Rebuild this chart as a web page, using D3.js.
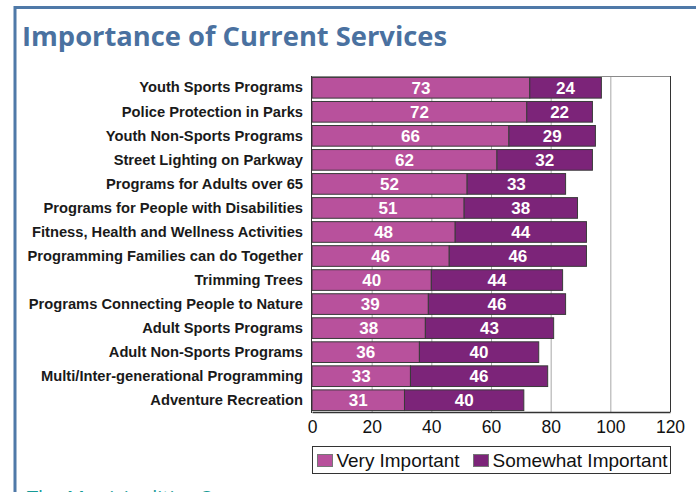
<!DOCTYPE html>
<html>
<head>
<meta charset="utf-8">
<script src="https://cdn.jsdelivr.net/npm/d3@7"></script>
<style>
  html, body { margin: 0; padding: 0; background: #fff; }
  svg { display: block; }
</style>
</head>
<body>
<svg id="chart" width="696" height="492"></svg>
<script>
// Survey services, in display order (top to bottom)
const categories = [
  "Youth Sports Programs",
  "Police Protection in Parks",
  "Youth Non-Sports Programs",
  "Street Lighting on Parkway",
  "Programs for Adults over 65",
  "Programs for People with Disabilities",
  "Fitness, Health and Wellness Activities",
  "Programming Families can do Together",
  "Trimming Trees",
  "Programs Connecting People to Nature",
  "Adult Sports Programs",
  "Adult Non-Sports Programs",
  "Multi/Inter-generational Programming",
  "Adventure Recreation"
];
const veryImportant     = [73, 72, 66, 62, 52, 51, 48, 46, 40, 39, 38, 36, 33, 31];
const somewhatImportant = [24, 22, 29, 32, 33, 38, 44, 46, 44, 46, 43, 40, 46, 40];
const seriesNames = ["Very Important", "Somewhat Important"];
const xTicks = [0, 20, 40, 60, 80, 100, 120];

const colors = ["#b8519c", "#7c2479"];
const sans = "'Liberation Sans', Arial, sans-serif";

const svg = d3.select("#chart");

// Frame lines
svg.append("line").attr("x1", 14).attr("x2", 696).attr("y1", 7.5).attr("y2", 7.5)
  .attr("stroke", "#4f79a8").attr("stroke-width", 3);
svg.append("line").attr("x1", 15).attr("x2", 15).attr("y1", 6).attr("y2", 492)
  .attr("stroke", "#4f79a8").attr("stroke-width", 3);

// Title
svg.append("text")
  .attr("x", 22).attr("y", 46)
  .attr("font-family", "'Open Sans', sans-serif")
  .attr("font-weight", "bold")
  .attr("font-size", 26)
  .attr("fill", "#4a71a0")
  .attr("textLength", 425).attr("lengthAdjust", "spacingAndGlyphs")
  .text("Importance of Current Services");

const margin = { left: 312, right: 670, top: 76, bottom: 412 };

const x = d3.scaleLinear().domain([0, 120]).range([margin.left, margin.right]);
const y = d3.scaleBand().domain(categories).range([margin.top, margin.bottom]).paddingInner(0.14).paddingOuter(0.06);

// Plot background and gridlines
svg.append("rect")
  .attr("x", margin.left).attr("y", margin.top)
  .attr("width", margin.right - margin.left).attr("height", margin.bottom - margin.top)
  .attr("fill", "#fff");

svg.append("g")
  .selectAll("line")
  .data(xTicks.slice(1, -1))
  .join("line")
  .attr("x1", d => x(d) + 0.5).attr("x2", d => x(d) + 0.5)
  .attr("y1", margin.top).attr("y2", margin.bottom)
  .attr("stroke", "#a8a8a8").attr("stroke-width", 1);

// Stacked bars
const rows = categories.map((c, i) => ({ cat: c, v: [veryImportant[i], somewhatImportant[i]] }));
const stack = d3.stack().keys([0, 1]).value((d, k) => d.v[k]);
const stacked = stack(rows);

const bars = svg.append("g");
stacked.forEach((layer, k) => {
  bars.append("g")
    .selectAll("rect")
    .data(layer)
    .join("rect")
    .attr("x", d => x(d[0]))
    .attr("y", d => y(d.data.cat))
    .attr("width", d => x(d[1]) - x(d[0]))
    .attr("height", y.bandwidth())
    .attr("fill", colors[k])
    .attr("stroke", "#3a3a3a")
    .attr("stroke-width", 1);
});

// Value labels
stacked.forEach((layer, k) => {
  svg.append("g")
    .selectAll("text")
    .data(layer)
    .join("text")
    .attr("x", d => (x(d[0]) + x(d[1])) / 2)
    .attr("y", d => y(d.data.cat) + y.bandwidth() / 2)
    .attr("dy", "0.36em")
    .attr("text-anchor", "middle")
    .attr("font-family", sans)
    .attr("font-weight", "bold")
    .attr("font-size", 17)
    .attr("fill", "#fff")
    .text(d => d[1] - d[0]);
});

// Plot frame
svg.append("line").attr("x1", margin.left).attr("x2", margin.right)
  .attr("y1", margin.top + 0.5).attr("y2", margin.top + 0.5).attr("stroke", "#8a8a8a");
svg.append("line").attr("x1", margin.right + 0.5).attr("x2", margin.right + 0.5)
  .attr("y1", margin.top).attr("y2", margin.bottom).attr("stroke", "#333");
svg.append("line").attr("x1", margin.left - 0.5).attr("x2", margin.left - 0.5)
  .attr("y1", margin.top).attr("y2", margin.bottom + 1).attr("stroke", "#333");

// X axis
const xAxis = svg.append("g")
  .attr("transform", `translate(0,${margin.bottom})`)
  .call(d3.axisBottom(x).tickValues(xTicks).tickSize(0).tickPadding(9));
xAxis.select(".domain").attr("stroke", "#333").attr("stroke-width", 1.5);
xAxis.selectAll("text")
  .attr("font-family", sans)
  .attr("font-size", 17.5)
  .attr("fill", "#111");

// Y axis labels
const yAxis = svg.append("g")
  .attr("transform", `translate(${margin.left},0)`)
  .call(d3.axisLeft(y).tickSize(0).tickPadding(9));
yAxis.select(".domain").remove();
yAxis.selectAll("text")
  .attr("font-family", sans)
  .attr("font-weight", "bold")
  .attr("font-size", 14.7)
  .attr("fill", "#1a1a1a");

// Legend
const legend = svg.append("g");
legend.append("rect")
  .attr("x", 312.5).attr("y", 446.5).attr("width", 358).attr("height", 27)
  .attr("fill", "#fff").attr("stroke", "#333");
const legendItems = [
  { name: seriesNames[0], color: colors[0], x: 317.5, w: 123 },
  { name: seriesNames[1], color: colors[1], x: 473.5, w: 175 }
];
legendItems.forEach(item => {
  legend.append("rect")
    .attr("x", item.x).attr("y", 454.5).attr("width", 15).attr("height", 12)
    .attr("fill", item.color).attr("stroke", "#777");
  legend.append("text")
    .attr("x", item.x + 19).attr("y", 467)
    .attr("font-family", sans)
    .attr("font-size", 18.5)
    .attr("fill", "#111")
    .attr("textLength", item.w).attr("lengthAdjust", "spacingAndGlyphs")
    .text(item.name);
});

// Footer caption (runs off the bottom edge)
svg.append("text")
  .attr("x", 27).attr("y", 505)
  .attr("font-family", "'Open Sans', sans-serif")
  .attr("font-size", 20)
  .attr("fill", "#169a96")
  .text("The Municipalities Survey");
</script>
</body>
</html>
